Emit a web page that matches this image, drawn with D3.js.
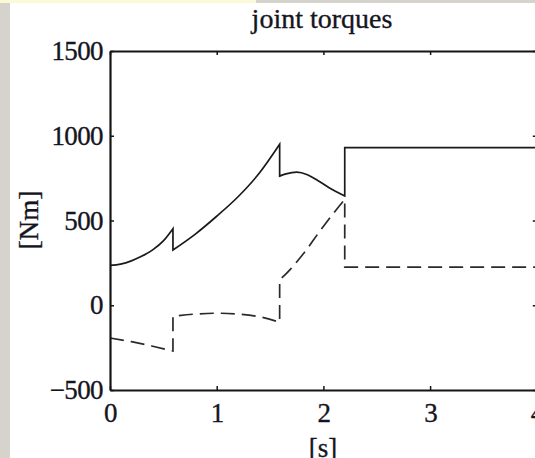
<!DOCTYPE html>
<html>
<head>
<meta charset="utf-8">
<script src="https://cdn.jsdelivr.net/npm/d3@7"></script>
<style>
body { margin: 0; padding: 0; background: #ffffff; }
svg { display: block; }
text { font-family: "Liberation Serif", "DejaVu Serif", serif; fill: #15151f; stroke: #15151f; stroke-width: 0.35px; }
</style>
</head>
<body>
<div id="chart"></div>
<script>
var width = 535;
var height = 458;

// time ticks and torque ticks
var timeTicks = [0, 1, 2, 3, 4];
var torqueTicks = [-500, 0, 500, 1000, 1500];

// joint 1 (solid), repeated time = jump
var solidTime = [0, 0.1, 0.2, 0.3, 0.4, 0.5, 0.59, 0.59, 0.8, 1.0, 1.2, 1.4, 1.59, 1.59, 1.65, 1.75, 1.85, 1.95, 2.05, 2.2, 2.2, 4.0];
var solidTorque = [235, 243, 262, 290, 327, 380, 452, 326, 420, 525, 640, 780, 950, 762, 775, 785, 770, 735, 695, 645, 930, 930];

// joint 2 (dashed)
var dashTime = [0, 0.2, 0.4, 0.59, 0.59, 0.8, 1.0, 1.2, 1.4, 1.59, 1.59, 1.69, 1.81, 1.97, 2.11, 2.2, 2.2, 4.0];
var dashTorque = [-193, -215, -242, -270, -65, -52, -47, -52, -68, -100, 149, 212, 302, 440, 555, 625, 225, 225];

var x = d3.scaleLinear().domain([0, 4]).range([110, 536.8]);
var y = d3.scaleLinear().domain([-500, 1500]).range([390, 51]);

var svg = d3.select("#chart").append("svg")
	.attr("width", width)
	.attr("height", height)
	.attr("xmlns", "http://www.w3.org/2000/svg");

// page background strips
svg.append("rect").attr("x", 0).attr("y", 0).attr("width", 10).attr("height", height).style("fill", "#d5d3cb");
svg.append("rect").attr("x", 0).attr("y", 0).attr("width", 256).attr("height", 3).style("fill", "#fbfad6");
svg.append("rect").attr("x", 256).attr("y", 0).attr("width", width - 256).attr("height", 3).style("fill", "#d5d3cb");

// split the series where time repeats, draw smooth pieces joined by straight jumps
function buildPath(times, values) {
	var segs = [];
	var cur = [];
	for (var i = 0; i < times.length; i++) {
		if (i > 0 && times[i] == times[i - 1]) {
			segs.push(cur);
			cur = [];
		}
		cur.push([times[i], values[i]]);
	}
	segs.push(cur);

	var line = d3.line()
		.x(function(d){ return x(d[0]); })
		.y(function(d){ return y(d[1]); })
		.curve(d3.curveMonotoneX);

	var d = "";
	for (var j = 0; j < segs.length; j++) {
		var p = line(segs[j]);
		if (j > 0) p = "L" + p.slice(1);
		d += p;
	}
	return d;
}

var plot = svg.append("g");

plot.append("path")
	.attr("d", buildPath(dashTime, dashTorque))
	.style("fill", "none")
	.style("stroke", "#2a2a2a")
	.style("stroke-width", 1.7)
	.style("stroke-dasharray", "14,7");

plot.append("path")
	.attr("d", buildPath(solidTime, solidTorque))
	.style("fill", "none")
	.style("stroke", "#1a1a1a")
	.style("stroke-width", 1.7);

// axes, ticks pointing inward
var bottom = svg.append("g")
	.attr("transform", "translate(0," + y(-500) + ")")
	.call(d3.axisBottom(x).tickValues(timeTicks).tickSizeInner(-4).tickSizeOuter(0).tickPadding(13).tickFormat(d3.format("d")));

var left = svg.append("g")
	.attr("transform", "translate(" + x(0) + ",0)")
	.call(d3.axisLeft(y).tickValues(torqueTicks).tickSizeInner(-4).tickSizeOuter(0).tickPadding(7).tickFormat(d3.format("d")));

var top = svg.append("g")
	.attr("transform", "translate(0," + y(1500) + ")")
	.call(d3.axisTop(x).tickValues(timeTicks).tickSizeInner(-4).tickSizeOuter(0).tickFormat(""));

var right = svg.append("g")
	.attr("transform", "translate(" + x(4) + ",0)")
	.call(d3.axisRight(y).tickValues(torqueTicks).tickSizeInner(-4).tickSizeOuter(0).tickFormat(""));

svg.selectAll(".domain").style("stroke", "#151515").style("stroke-width", 2.2);
svg.selectAll(".tick line").style("stroke", "#151515").style("stroke-width", 1.5);
svg.selectAll(".tick text")
	.style("font-family", "Liberation Serif, serif")
	.style("font-size", "27px")
	.style("letter-spacing", "-0.6px")
	.style("fill", "#15151f");

bottom.selectAll(".tick text").attr("dy", "0.71em");

// titles
svg.append("text")
	.attr("x", 322)
	.attr("y", 28)
	.attr("text-anchor", "middle")
	.style("font-size", "28px")
	.text("joint torques");

svg.append("text")
	.attr("x", 323)
	.attr("y", 457)
	.attr("text-anchor", "middle")
	.style("font-size", "27px")
	.text("[s]");

svg.append("text")
	.attr("transform", "translate(38,220) rotate(-90)")
	.attr("text-anchor", "middle")
	.style("font-size", "27px")
	.text("[Nm]");
</script>
</body>
</html>
